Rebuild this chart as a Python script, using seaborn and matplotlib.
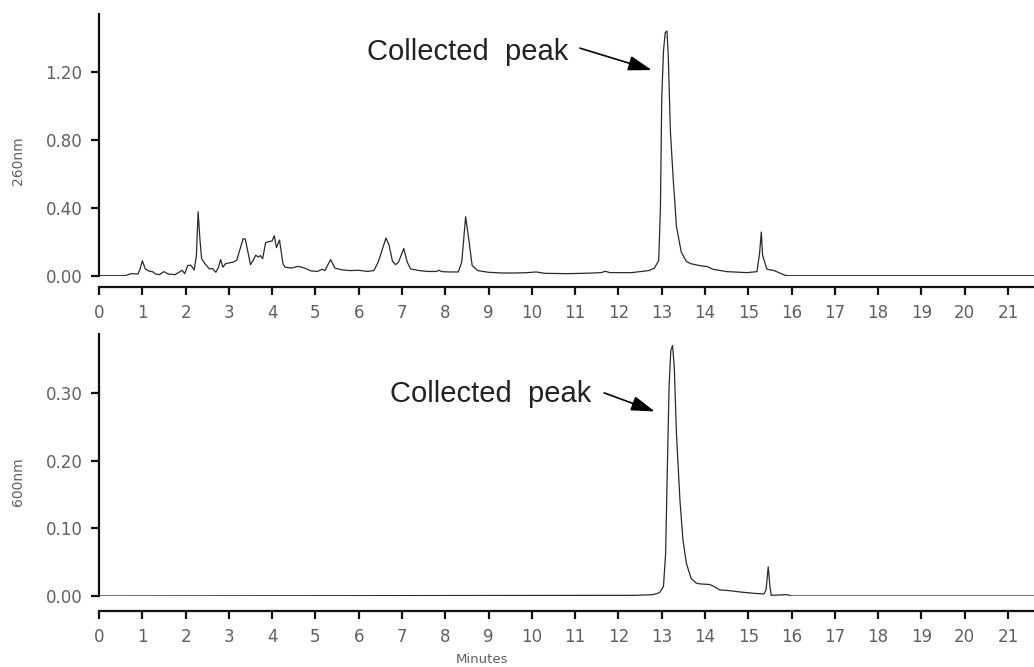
import matplotlib
matplotlib.use("Agg")
import matplotlib.pyplot as plt
import seaborn as sns
import pandas as pd

# ---- data ----
t260 = [0.0, 0.6, 0.75, 0.9, 0.95, 1.0, 1.07, 1.15, 1.25, 1.3, 1.4, 1.5, 1.6, 1.75, 1.85, 1.92,
        1.98, 2.05, 2.12, 2.2, 2.25, 2.29, 2.33, 2.37, 2.45, 2.55, 2.62, 2.70, 2.76, 2.81, 2.86,
        2.92, 3.0, 3.1, 3.18, 3.25, 3.33, 3.38, 3.44, 3.5, 3.56, 3.62, 3.68, 3.73, 3.78, 3.85,
        3.93, 4.0, 4.05, 4.1, 4.17, 4.25, 4.3, 4.45, 4.6, 4.75, 4.9, 5.05, 5.15, 5.22, 5.35,
        5.45, 5.6, 5.8, 6.0, 6.2, 6.35, 6.45, 6.55, 6.63, 6.7, 6.78, 6.85, 6.92, 7.04, 7.12,
        7.2, 7.4, 7.6, 7.8, 7.85, 7.92, 8.1, 8.3, 8.38, 8.47, 8.55, 8.62, 8.75, 9.0, 9.3, 9.6,
        9.9, 10.1, 10.3, 10.8, 11.2, 11.6, 11.7, 11.8, 12.3, 12.7, 12.83, 12.93, 12.97, 13.0,
        13.04, 13.08, 13.12, 13.15, 13.2, 13.27, 13.34, 13.45, 13.57, 13.68, 13.87, 14.06, 14.18,
        14.5, 14.97, 15.2, 15.26, 15.3, 15.33, 15.36, 15.43, 15.6, 15.83, 15.9, 21.6]
a260 = [0.0, 0.0, 0.012, 0.010, 0.040, 0.088, 0.040, 0.028, 0.022, 0.010, 0.006, 0.024, 0.010,
        0.006, 0.020, 0.032, 0.012, 0.060, 0.062, 0.034, 0.120, 0.376, 0.220, 0.100, 0.070,
        0.040, 0.042, 0.020, 0.050, 0.095, 0.050, 0.070, 0.075, 0.080, 0.090, 0.150, 0.218,
        0.215, 0.140, 0.065, 0.090, 0.120, 0.110, 0.118, 0.100, 0.195, 0.200, 0.205, 0.235,
        0.165, 0.210, 0.070, 0.050, 0.045, 0.055, 0.045, 0.028, 0.025, 0.038, 0.030, 0.095,
        0.045, 0.035, 0.030, 0.032, 0.025, 0.030, 0.080, 0.160, 0.222, 0.180, 0.085, 0.065,
        0.080, 0.160, 0.080, 0.040, 0.030, 0.025, 0.025, 0.032, 0.024, 0.022, 0.022, 0.080,
        0.347, 0.200, 0.060, 0.030, 0.020, 0.016, 0.016, 0.018, 0.022, 0.014, 0.012, 0.014,
        0.018, 0.026, 0.018, 0.018, 0.030, 0.044, 0.090, 0.400, 1.040, 1.320, 1.430, 1.440,
        1.300, 0.850, 0.550, 0.290, 0.140, 0.083, 0.070, 0.060, 0.053, 0.038, 0.024, 0.018,
        0.024, 0.130, 0.257, 0.120, 0.095, 0.038, 0.030, 0.004, 0.0, 0.0]

t600 = [0.0, 12.4, 12.8, 12.95, 13.04, 13.09, 13.13, 13.17, 13.21, 13.25, 13.29, 13.34, 13.42,
        13.49, 13.57, 13.68, 13.8, 13.87, 14.1, 14.18, 14.34, 14.55, 14.8, 15.12, 15.36, 15.41,
        15.46, 15.5, 15.53, 15.9, 16.0, 21.6]
a600 = [0.0, 0.001, 0.002, 0.005, 0.014, 0.063, 0.190, 0.310, 0.363, 0.370, 0.338, 0.240,
        0.142, 0.083, 0.048, 0.026, 0.019, 0.018, 0.017, 0.015, 0.009, 0.008, 0.006, 0.004,
        0.003, 0.009, 0.043, 0.014, 0.001, 0.002, 0.0, 0.0]

x_ticks = list(range(0, 22))
y_ticks_260 = [0.0, 0.40, 0.80, 1.20]
y_ticks_600 = [0.0, 0.10, 0.20, 0.30]
label_260 = "260nm"
label_600 = "600nm"
x_label = "Minutes"
annot_text = "Collected  peak"

# ---- styling ----
sns.set_theme(style="ticks")
plt.rcParams["font.family"] = ["DejaVu Sans"]

W, H = 1034, 667
fig = plt.figure(figsize=(W / 100, H / 100), dpi=100)

def frac_box(left_px, top_px, bottom_px, right_px=W):
    return [left_px / W, 1 - bottom_px / H, (right_px - left_px) / W, (bottom_px - top_px) / H]

ax1 = fig.add_axes(frac_box(99, 14, 275.7))
ax2 = fig.add_axes(frac_box(99, 334, 596))

tick_color = "#606060"
line_color = "#2a2a2a"

def style(ax, yt, ylim, ylab, offset_pt, ylab_y):
    ax.set_xlim(0, 21.6)
    ax.set_ylim(*ylim)
    ax.set_xticks(x_ticks)
    ax.set_xticklabels([str(v) for v in x_ticks])
    ax.set_yticks(yt)
    ax.set_yticklabels([f"{v:.2f}" for v in yt])
    for s in ["top", "right"]:
        ax.spines[s].set_visible(False)
    for s in ["left", "bottom"]:
        ax.spines[s].set_linewidth(1.6)
        ax.spines[s].set_color("#111111")
    ax.spines["bottom"].set_position(("outward", offset_pt))
    ax.tick_params(axis="both", which="major", length=6, width=1.6, color="#111111",
                   labelsize=12, labelcolor=tick_color, pad=6)
    ax.set_ylabel(ylab, fontsize=10, color=tick_color)
    ax.yaxis.set_label_coords(-0.087, ylab_y)
    ax.yaxis.label.set_va("center")
    ax.grid(False)
    ax.set_facecolor("white")

df1 = pd.DataFrame({"Minutes": t260, "Abs": a260})
df2 = pd.DataFrame({"Minutes": t600, "Abs": a600})
sns.lineplot(data=df1, x="Minutes", y="Abs", ax=ax1, color=line_color, lw=0.9, estimator=None)
sns.lineplot(data=df2, x="Minutes", y="Abs", ax=ax2, color=line_color, lw=0.9, estimator=None)

style(ax1, y_ticks_260, (0, 1.54), label_260, 8.3, 0.44)
style(ax2, y_ticks_600, (0, 0.387), label_600, 10.8, 0.435)
ax1.set_xlabel("")
ax2.set_xlabel(x_label, fontsize=9.5, color=tick_color)
ax2.xaxis.set_label_coords(0.41, -0.244)
ax2.xaxis.label.set_va("center")

arrow_kw = dict(arrowstyle="-|>,head_length=1.2,head_width=0.38", color="black", lw=1.2,
                shrinkA=0, shrinkB=0)
txt_kw = dict(fontsize=21, color="#222222", ha="left", va="baseline",
              family=["Liberation Sans", "DejaVu Sans"], fontweight="normal")
ax1.text(6.19, 1.269, annot_text, **txt_kw)
ax1.annotate("", xy=(12.77, 1.21), xytext=(11.11, 1.339), arrowprops=arrow_kw)
ax2.text(6.72, 0.2868, annot_text, **txt_kw)
ax2.annotate("", xy=(12.84, 0.2726), xytext=(11.67, 0.300), arrowprops=arrow_kw)

fig.savefig("out.png", dpi=100, facecolor="white")
